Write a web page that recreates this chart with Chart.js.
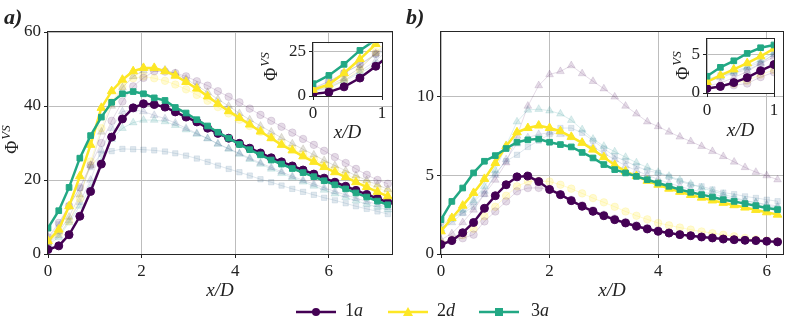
<!DOCTYPE html>
<html>
<head>
<meta charset="utf-8">
<script src="https://cdn.jsdelivr.net/npm/chart.js@4.4.1/dist/chart.umd.min.js"></script>
<style>
body { margin: 0; background: #fff; width: 789px; height: 325px; overflow: hidden; position: relative; font-family: 'Liberation Serif', serif; color: #222; }
canvas { position: absolute; }
.lbl { position: absolute; font: italic bold 22px 'Liberation Serif', serif; line-height: 1; }
.leg { position: absolute; top: 305px; }
.legtxt { position: absolute; top: 301px; font-size: 18px; line-height: 1; }
</style>
</head>
<body>
<canvas id="mainA" width="400" height="310" style="left:0;top:0"></canvas>
<canvas id="mainB" width="389" height="310" style="left:400px;top:0"></canvas>
<canvas id="insetA" width="130" height="115" style="left:260px;top:30px"></canvas>
<canvas id="insetB" width="130" height="118" style="left:655px;top:26px"></canvas>
<div class="lbl" style="left:4px;top:6px">a)</div>
<div class="lbl" style="left:406px;top:6px">b)</div>

<svg class="leg" style="left:296px" width="40" height="14"><line x1="0" y1="7" x2="40" y2="7" stroke="#440154" stroke-width="2.5"/><circle cx="20" cy="7" r="4" fill="#440154"/></svg>
<div class="legtxt" style="left:345px">1<i>a</i></div>
<svg class="leg" style="left:388px" width="40" height="14"><line x1="0" y1="7" x2="40" y2="7" stroke="#fde725" stroke-width="2.5"/><polygon points="20,2 25,11 15,11" fill="#fde725"/></svg>
<div class="legtxt" style="left:437px">2<i>d</i></div>
<svg class="leg" style="left:479px" width="40" height="14"><line x1="0" y1="7" x2="40" y2="7" stroke="#22a884" stroke-width="2.5"/><rect x="16" y="3" width="8" height="8" fill="#22a884"/></svg>
<div class="legtxt" style="left:531px">3<i>a</i></div>

<script>
// panel a: x/D positions and profiles
const xA = [0, 0.23, 0.45, 0.68, 0.91, 1.14, 1.36, 1.59, 1.82, 2.04, 2.27, 2.5, 2.72, 2.95, 3.18, 3.41, 3.63, 3.86, 4.09, 4.31, 4.54, 4.77, 4.99, 5.22, 5.45, 5.68, 5.9, 6.13, 6.36, 6.58, 6.81, 7.04, 7.26];
const a1a = [1.2, 2.2, 5.2, 10.2, 16.9, 24.3, 31.6, 36.5, 39.5, 40.6, 40.4, 39.7, 38.4, 37.0, 35.7, 34.0, 32.6, 31.3, 29.9, 28.6, 27.3, 26.0, 24.9, 23.8, 22.7, 21.6, 20.5, 19.4, 18.3, 17.2, 16.1, 15.0, 14.0];
const a2d = [3.5, 6.6, 12.9, 21.0, 29.5, 39.5, 44.0, 47.1, 49.4, 50.3, 50.3, 49.4, 48.2, 46.5, 44.7, 42.6, 40.6, 38.6, 36.8, 35.0, 33.1, 31.3, 29.5, 28.0, 26.4, 24.9, 23.5, 22.1, 20.8, 19.4, 18.1, 16.8, 15.6];
const a3a = [7.0, 11.7, 18.0, 25.9, 32.0, 37.0, 41.0, 43.3, 43.9, 43.3, 42.2, 41.5, 39.6, 38.1, 36.3, 34.6, 32.9, 31.3, 29.6, 28.2, 26.8, 25.4, 24.3, 23.1, 22.0, 20.9, 19.8, 18.7, 17.6, 16.5, 15.4, 14.3, 13.3];
// other cases, shown faded
const aLavCirc = [4.5, 8.4, 13.0, 18.0, 24.0, 30.0, 36.0, 41.2, 45.3, 47.6, 49.4, 49.3, 48.9, 48.0, 46.7, 45.5, 44.0, 42.5, 41.0, 39.3, 37.6, 36.0, 34.4, 32.8, 31.1, 29.5, 27.9, 26.2, 24.6, 23.0, 21.4, 20.0, 19.0];
const aTanTri = [3.0, 6.0, 10.0, 16.0, 24.0, 33.0, 40.0, 45.0, 48.0, 49.5, 50.0, 49.8, 48.8, 47.3, 45.5, 43.7, 41.8, 40.0, 38.0, 36.3, 34.6, 33.0, 31.4, 29.8, 28.3, 26.8, 25.3, 23.9, 22.5, 21.2, 19.9, 18.7, 17.5];
const aYelCirc = [3.0, 5.5, 8.8, 15.0, 25.0, 34.0, 41.0, 45.3, 47.5, 48.0, 47.5, 46.8, 45.8, 44.5, 43.0, 41.4, 39.7, 38.0, 36.3, 34.6, 33.0, 31.5, 30.0, 28.5, 27.0, 25.6, 24.2, 22.9, 21.6, 20.3, 19.1, 17.9, 16.8];
const aBluTri = [3.0, 5.0, 9.0, 14.0, 20.0, 28.0, 34.0, 38.5, 39.0, 38.5, 37.5, 36.6, 35.4, 34.0, 32.6, 31.2, 29.8, 28.5, 27.2, 25.9, 24.6, 23.4, 22.2, 21.0, 19.9, 18.9, 17.9, 16.9, 16.0, 15.1, 14.2, 13.4, 12.6];
const aTealTri = [2.5, 4.5, 8.5, 13.0, 18.0, 25.0, 31.0, 34.0, 35.5, 36.2, 36.2, 35.8, 34.8, 33.6, 32.4, 31.2, 29.7, 28.4, 27.0, 25.6, 24.3, 23.0, 21.8, 20.6, 19.5, 18.4, 17.3, 16.3, 15.3, 14.4, 13.5, 12.7, 12.0];
const aSq = [4.0, 8.0, 13.0, 17.8, 23.5, 27.1, 27.8, 28.4, 28.3, 28.2, 28.0, 27.7, 27.2, 26.6, 25.8, 24.9, 23.9, 23.0, 22.1, 21.2, 20.2, 19.4, 18.5, 17.6, 16.8, 16.0, 15.2, 14.5, 13.7, 12.9, 12.2, 11.5, 10.8];

// panel b
const xB = [0, 0.2, 0.4, 0.6, 0.8, 1.0, 1.2, 1.4, 1.6, 1.8, 2.0, 2.2, 2.4, 2.6, 2.8, 3.0, 3.2, 3.4, 3.6, 3.8, 4.0, 4.2, 4.4, 4.6, 4.8, 5.0, 5.2, 5.4, 5.6, 5.8, 6.0, 6.2];
const b1a = [0.6, 0.85, 1.35, 2.0, 2.9, 3.7, 4.4, 4.9, 4.95, 4.6, 4.1, 3.77, 3.39, 3.03, 2.71, 2.43, 2.18, 1.97, 1.76, 1.59, 1.44, 1.33, 1.23, 1.16, 1.08, 1.02, 0.95, 0.91, 0.87, 0.85, 0.81, 0.77];
const b2d = [1.44, 2.29, 3.07, 3.88, 4.77, 5.78, 6.84, 7.73, 8.0, 8.16, 8.0, 7.8, 7.44, 7.06, 6.63, 6.15, 5.65, 5.25, 4.95, 4.65, 4.4, 4.15, 3.95, 3.75, 3.58, 3.4, 3.25, 3.1, 2.95, 2.8, 2.65, 2.5];
const b3a = [2.18, 3.34, 4.19, 5.15, 5.89, 6.25, 6.7, 7.1, 7.25, 7.3, 7.1, 6.95, 6.8, 6.45, 6.1, 5.68, 5.36, 5.15, 4.93, 4.72, 4.51, 4.3, 4.09, 3.92, 3.77, 3.62, 3.45, 3.34, 3.2, 3.07, 2.92, 2.82];
const bLavTri = [0.9, 1.3, 2.0, 2.8, 3.8, 4.7, 5.8, 7.5, 9.4, 10.7, 11.4, 11.6, 11.97, 11.46, 10.97, 10.5, 9.98, 9.4, 8.9, 8.4, 8.1, 7.75, 7.44, 7.15, 6.84, 6.52, 6.2, 5.85, 5.5, 5.2, 4.98, 4.72];
const bTealTri = [1.6, 2.2, 2.8, 3.4, 4.3, 5.3, 6.9, 8.4, 9.15, 9.2, 9.1, 8.9, 8.5, 7.9, 7.3, 6.85, 6.5, 6.15, 5.8, 5.5, 5.2, 4.95, 4.7, 4.45, 4.2, 4.0, 3.8, 3.6, 3.4, 3.25, 3.1, 2.95];
const bSq = [1.8, 2.3, 2.6, 3.0, 3.8, 5.1, 5.9, 6.3, 6.8, 7.2, 7.6, 8.0, 8.0, 7.7, 7.2, 6.7, 6.2, 5.9, 5.57, 5.3, 5.15, 4.9, 4.62, 4.4, 4.3, 4.1, 3.9, 3.8, 3.66, 3.56, 3.45, 3.35];
const bBluTri = [1.5, 2.0, 2.6, 3.3, 4.0, 5.0, 6.0, 7.0, 7.4, 7.6, 7.7, 7.6, 7.4, 7.1, 6.8, 6.4, 6.0, 5.6, 5.3, 5.0, 4.75, 4.5, 4.3, 4.1, 3.95, 3.8, 3.65, 3.5, 3.38, 3.27, 3.15, 3.05];
const bLavCirc = [0.64, 0.91, 1.0, 1.23, 2.07, 2.7, 3.34, 3.98, 4.19, 4.2, 4.1, 3.8, 3.45, 3.1, 2.78, 2.5, 2.25, 2.03, 1.83, 1.65, 1.5, 1.38, 1.27, 1.18, 1.1, 1.03, 0.97, 0.92, 0.88, 0.85, 0.82, 0.79];
const bYelCirc = [0.7, 0.9, 1.2, 1.6, 2.4, 3.0, 3.7, 4.3, 4.6, 4.65, 4.6, 4.4, 4.15, 3.85, 3.55, 3.28, 3.0, 2.7, 2.43, 2.2, 1.97, 1.82, 1.68, 1.55, 1.43, 1.32, 1.22, 1.12, 1.02, 0.93, 0.86, 0.8];

const ticksA = { x: [0, 2, 4, 6], y: [0, 20, 40, 60] };
const ticksB = { x: [0, 2, 4, 6], y: [0, 5, 10] };
const ticksInA = { x: [0, 1], y: [0, 25] };
const ticksInB = { x: [0, 1], y: [0, 5] };

const PURPLE = '#440154', YELLOW = '#fde725', GREEN = '#22a884';
const LAV = 'rgba(68,1,84,0.14)', TAN = 'rgba(90,80,40,0.16)', PALEY = 'rgba(253,231,37,0.2)';
const TEAL = 'rgba(33,145,140,0.16)', BLUE = 'rgba(59,82,139,0.15)', STEEL = 'rgba(49,104,142,0.15)';
const FONT = 'Liberation Serif';

function series(xs, ys, color, style, main) {
    return {
        data: xs.map(function(x, i) { return { x: x, y: ys[i] }; }),
        borderColor: color,
        backgroundColor: color,
        pointBackgroundColor: color,
        pointBorderColor: color,
        pointStyle: style,
        pointRadius: main ? (style === 'triangle' ? 5 : 4) : (style === 'triangle' ? 4.5 : 3.8),
        pointBorderWidth: main ? 1 : 0.8,
        borderWidth: main ? 2.5 : 1,
        tension: 0
    };
}

function setsA() {
    return [
        series(xA, a3a, GREEN, 'rect', true),
        series(xA, a2d, YELLOW, 'triangle', true),
        series(xA, a1a, PURPLE, 'circle', true),
        series(xA, aLavCirc, LAV, 'circle'),
        series(xA, aTanTri, TAN, 'triangle'),
        series(xA, aYelCirc, PALEY, 'circle'),
        series(xA, aBluTri, BLUE, 'triangle'),
        series(xA, aTealTri, TEAL, 'triangle'),
        series(xA, aSq, STEEL, 'rect')
    ];
}

function setsB() {
    return [
        series(xB, b3a, GREEN, 'rect', true),
        series(xB, b2d, YELLOW, 'triangle', true),
        series(xB, b1a, PURPLE, 'circle', true),
        series(xB, bLavTri, LAV, 'triangle'),
        series(xB, bTealTri, TEAL, 'triangle'),
        series(xB, bSq, STEEL, 'rect'),
        series(xB, bBluTri, BLUE, 'triangle'),
        series(xB, bLavCirc, LAV, 'circle'),
        series(xB, bYelCirc, PALEY, 'circle')
    ];
}

// white plot face + full box like matplotlib spines
const frame = {
    id: 'frame',
    beforeDraw: function(chart, args, opts) {
        if (!opts.fill) return;
        const a = chart.chartArea;
        chart.ctx.save();
        chart.ctx.fillStyle = '#fff';
        chart.ctx.fillRect(a.left, a.top, a.right - a.left, a.bottom - a.top);
        chart.ctx.restore();
    },
    afterDatasetsDraw: function(chart) {
        const a = chart.chartArea;
        const ctx = chart.ctx;
        ctx.save();
        ctx.strokeStyle = '#262626';
        ctx.lineWidth = 1;
        ctx.strokeRect(Math.round(a.left) - 0.5, Math.round(a.top) - 0.5, Math.round(a.right - a.left) + 1, Math.round(a.bottom - a.top) + 1);
        ctx.restore();
    }
};

// rotated Phi^VS label
const phiTitle = {
    id: 'phiTitle',
    afterDraw: function(chart, args, opts) {
        if (!opts.show) return;
        const ctx = chart.ctx;
        const big = opts.size + 'px "' + FONT + '"';
        const small = 'italic ' + Math.round(opts.size * 0.72) + 'px "' + FONT + '"';
        ctx.save();
        ctx.translate(opts.x, opts.y);
        ctx.rotate(-Math.PI / 2);
        ctx.fillStyle = '#222';
        ctx.textBaseline = 'middle';
        ctx.font = big;
        const w1 = ctx.measureText('Φ').width;
        ctx.font = small;
        const w2 = ctx.measureText('VS').width;
        const start = -(w1 + w2) / 2;
        ctx.font = big;
        ctx.fillText('Φ', start, 0);
        ctx.font = small;
        ctx.fillText('VS', start + w1 + 1, -opts.size * 0.38);
        ctx.restore();
    }
};

function axis(min, max, ticks, fit, horizontal, titlePad) {
    const s = {
        type: 'linear',
        min: min,
        max: max,
        afterBuildTicks: function(scale) {
            scale.ticks = ticks.map(function(v) { return { value: v }; });
        },
        afterFit: function(scale) {
            if (horizontal) scale.height = fit; else scale.width = fit;
        },
        grid: { color: '#bdbdbd', lineWidth: 1, tickColor: '#222', tickLength: 4 },
        border: { display: false },
        ticks: { font: { family: FONT, size: 17 }, color: '#222', padding: 3, maxRotation: 0, autoSkip: false }
    };
    if (horizontal) {
        s.title = { display: true, text: 'x/D', color: '#222', font: { family: FONT, size: 19, style: 'italic' }, padding: { top: 0, bottom: titlePad } };
    }
    return s;
}

function makeChart(id, datasets, c) {
    return new Chart(document.getElementById(id), {
        type: 'line',
        data: { datasets: datasets },
        options: {
            responsive: false,
            animation: false,
            events: [],
            layout: { padding: { top: c.padTop, right: c.padRight, left: 0, bottom: 0 } },
            scales: {
                x: axis(0, c.xmax, c.ticks.x, c.xh, true, c.titlePad),
                y: axis(0, c.ymax, c.ticks.y, c.yw, false)
            },
            plugins: {
                legend: { display: false },
                tooltip: { enabled: false },
                frame: { fill: c.fill },
                phiTitle: c.phi
            }
        },
        plugins: [frame, phiTitle]
    });
}

makeChart('mainA', setsA(), { padTop: 32, padRight: 8, xmax: 7.35, ymax: 60, ticks: ticksA, xh: 56, yw: 48, titlePad: 8, fill: false, phi: { show: true, x: 13, y: 140, size: 18 } });
makeChart('mainB', setsB(), { padTop: 32, padRight: 4, xmax: 6.3, ymax: 14.1, ticks: ticksB, xh: 56, yw: 41, titlePad: 8, fill: false, phi: { show: false } });
makeChart('insetA', setsA(), { padTop: 10, padRight: 8, xmax: 1, ymax: 30, ticks: ticksInA, xh: 49, yw: 53, titlePad: 1, fill: true, phi: { show: true, x: 12, y: 37, size: 18 } });
makeChart('insetB', setsB(), { padTop: 10, padRight: 11, xmax: 1, ymax: 7, ticks: ticksInB, xh: 51, yw: 52, titlePad: 2, fill: true, phi: { show: true, x: 29, y: 40, size: 18 } });
</script>
</body>
</html>
